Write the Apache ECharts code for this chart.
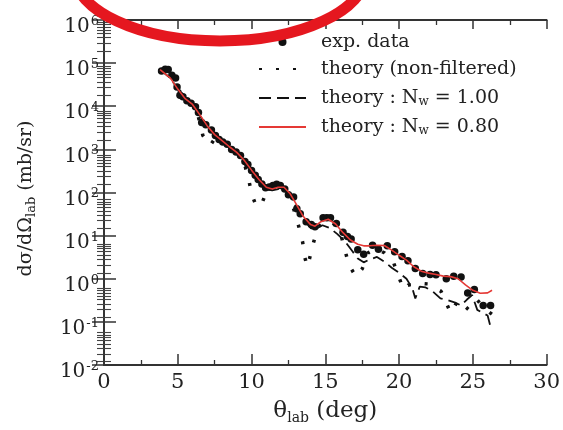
<!DOCTYPE html>
<html><head><meta charset="utf-8">
<script src="https://cdn.jsdelivr.net/npm/echarts@6/dist/echarts.min.js"></script>
<style>html,body{margin:0;padding:0;background:#fff}#c{width:563px;height:430px}</style>
</head><body><div id="c"></div>
<script>
// ---- data ----
const expTheta = [3.9,4.15,4.35,4.6,4.85,4.95,5.15,5.35,5.62,5.9,6.2,6.4,6.62,6.9,7.28,7.55,7.8,8.05,8.35,8.65,8.95,9.25,9.55,9.75,10.0,10.25,10.45,10.7,10.95,11.2,11.45,11.7,11.95,12.25,12.5,12.85,13.07,13.3,13.7,14.05,14.3,14.85,15.1,15.35,15.75,16.2,16.5,16.75,17.2,17.6,18.2,18.6,19.2,19.7,20.2,20.6,21.1,21.6,22.1,22.5,23.2,23.7,24.2,24.65,25.1,25.7,26.2];
const expSigma = [6.6e4,7.2e4,7.1e4,5.2e4,4.5e4,2.8e4,1.8e4,1.66e4,1.35e4,1.17e4,9.8e3,7.2e3,4.2e3,3.7e3,2.8e3,2.1e3,1.7e3,1.48e3,1.32e3,1.0e3,870,720,525,447,324,251,200,158,129,135,145,155,145,120,89,79,42,32,21,18,16,26,26,26,19,12,9.5,8.3,4.7,3.7,6.0,4.8,5.8,4.2,3.3,2.6,1.74,1.32,1.26,1.23,1.0,1.15,1.1,0.47,0.56,0.24,0.24];

const nfTheta = [3.8,4.2,4.6,5.0,5.5,6.0,6.4,6.7,7.2,7.6,8.0,8.5,9.0,9.5,9.85,10.0,10.3,10.62,11.0,11.4,11.8,12.2,12.6,13.07,13.3,13.47,13.56,13.78,13.91,14.2,14.5,15.0,15.5,16.0,16.3,16.6,17.07,17.5,17.9,18.4,19.0,19.6,20.3,20.6,21.3,21.95,22.85,23.5,24.0,24.73,25.3,25.8,26.6];
const nfSigma = [7.1e4,4.0e4,4.8e4,2.5e4,1.6e4,1.1e4,5.6e3,2.1e3,1.23e3,2.0e3,1.6e3,1.12e3,850,500,170,93,50,48,100,126,132,126,79,24,12,6.9,3.6,1.9,2.75,6.9,15.8,22,20,12.6,5.0,2.1,1.12,1.7,4.0,5.0,4.0,2.5,0.56,0.71,0.79,0.76,0.51,0.16,0.32,0.19,0.32,0.2,0.126];

const nw100Theta = [3.8,4.5,5.0,5.5,6.0,6.5,7.0,7.5,8.0,8.5,9.0,9.5,10.0,10.5,11.0,11.4,11.8,12.2,12.6,13.0,13.5,14.0,14.3,14.8,15.3,15.8,16.3,16.8,17.2,17.6,18.0,18.5,19.0,19.5,20.0,20.5,20.9,21.1,21.4,21.8,22.3,22.8,23.3,23.8,24.2,24.6,24.95,25.3,25.7,26.0,26.2];
const nw100Sigma = [7.1e4,4.5e4,2.5e4,1.5e4,1.07e4,6.0e3,3.4e3,2.1e3,1.55e3,1.12e3,830,540,310,182,120,112,120,117,83,48,24,15,14,17.4,15,11,7.6,4.5,2.95,2.4,2.8,3.2,2.5,1.8,1.38,1.0,0.6,0.35,0.66,0.63,0.5,0.35,0.32,0.28,0.24,0.33,0.42,0.19,0.16,0.14,0.076];

const nw080Theta = [3.8,4.5,5.0,5.5,6.0,6.5,7.0,7.5,8.0,8.5,9.0,9.5,10.0,10.5,11.0,11.4,11.8,12.2,12.6,13.0,13.5,14.0,14.3,14.7,15.2,15.7,16.2,16.7,17.2,17.6,18.0,18.5,19.0,19.5,20.0,20.5,21.0,21.5,22.0,22.5,23.0,23.5,24.0,24.5,25.0,25.5,26.0,26.3];
const nw080Sigma = [7.1e4,4.5e4,2.5e4,1.5e4,1.1e4,6.3e3,3.5e3,2.2e3,1.6e3,1.15e3,850,560,330,200,132,120,132,132,95,56,28,18,16.6,21,24,18.6,11.7,7.9,6.3,5.8,5.8,6.0,5.9,4.6,3.5,2.7,1.9,1.5,1.35,1.26,1.15,1.12,1.0,0.72,0.54,0.46,0.47,0.54];

const xTicks = [0,5,10,15,20,25,30];
const yDecades = [0.01,0.1,1,10,100,1000,1e4,1e5,1e6];

// ---- chart ----
const zip = (a,b) => a.map((v,i) => [v,b[i]]);
const FONT = "'DejaVu Serif','Liberation Serif',serif";
const INK = '#222';
const minorY = [];
for (let e = -2; e < 6; e++) for (let k = 2; k <= 9; k++) minorY.push(k * Math.pow(10, e));
const supFmt = v => {
  const e = Math.round(Math.log10(v));
  return '{b|10}{s|' + e + '}';
};
const supRich = {
  b: {fontFamily: FONT, fontSize: 20, color: INK, lineHeight: 22, verticalAlign: 'bottom'},
  s: {fontFamily: FONT, fontSize: 13, color: INK, lineHeight: 13, verticalAlign: 'top', padding: [0,0,16,1]}
};
const gridRect = {left: 104, right: 9, top: 20, bottom: 55};
const axLine = {show: true, lineStyle: {color: '#333', width: 1.8}};
const hiddenIcon = {color: 'rgba(0,0,0,0)', borderWidth: 0};

const chart = echarts.init(document.getElementById('c'), null, {renderer: 'canvas'});
chart.setOption({
  animation: false,
  backgroundColor: '#fff',
  grid: [Object.assign({}, gridRect), Object.assign({}, gridRect)],
  xAxis: [
    {gridIndex: 0, type: 'value', position: 'bottom', min: 0, max: 30, interval: 5,
     axisLine: axLine, splitLine: {show: false},
     axisTick: {inside: true, length: 11, lineStyle: {color: '#333', width: 1.5}},
     minorTick: {show: true, splitNumber: 2, length: 5, lineStyle: {color: '#333', width: 1.3}},
     axisLabel: {fontFamily: FONT, fontSize: 21, color: INK, margin: 7},
     name: 'θ{s|lab} (deg)', nameLocation: 'middle', nameGap: 32,
     nameTextStyle: {fontFamily: FONT, fontSize: 23, color: INK,
       rich: {s: {fontFamily: FONT, fontSize: 14, color: INK, verticalAlign: 'bottom', padding: [14,0,0,0]}}}},
    {gridIndex: 0, type: 'value', position: 'top', min: 0, max: 30, interval: 5,
     axisLine: axLine, splitLine: {show: false}, axisLabel: {show: false},
     axisTick: {inside: true, length: 9, lineStyle: {color: '#333', width: 1.5}},
     minorTick: {show: true, splitNumber: 2, length: 5, lineStyle: {color: '#333', width: 1.3}}},
    {gridIndex: 1, type: 'value', min: 0, max: 30, show: false},
    {gridIndex: 1, type: 'value', min: 0, max: 30, show: false, position: 'top'}
  ],
  yAxis: [
    {gridIndex: 0, type: 'log', logBase: 10, min: 0.01, max: 1e6, position: 'left',
     axisLine: axLine, splitLine: {show: false}, minorSplitLine: {show: false},
     axisTick: {inside: true, length: 12, customValues: yDecades, lineStyle: {color: '#333', width: 1.5}},
     axisLabel: {customValues: yDecades, formatter: supFmt, rich: supRich, margin: 5, padding: [12,0,0,0]},
     name: 'dσ/dΩ{s|lab} (mb/sr)', nameLocation: 'middle', nameGap: 66,
     nameTextStyle: {fontFamily: FONT, fontSize: 19, color: INK, padding: [0,12,0,0],
       rich: {s: {fontFamily: FONT, fontSize: 13, color: INK, verticalAlign: 'bottom', padding: [11,0,0,0]}}}},
    {gridIndex: 0, type: 'log', logBase: 10, min: 0.01, max: 1e6, position: 'right',
     axisLine: axLine, splitLine: {show: false}, axisLabel: {show: false},
     axisTick: {inside: true, length: 12, customValues: yDecades, lineStyle: {color: '#333', width: 1.5}}},
    {gridIndex: 1, type: 'log', logBase: 10, min: 0.01, max: 1e6, position: 'left',
     axisLine: {show: false}, splitLine: {show: false}, axisLabel: {show: false},
     axisTick: {inside: true, length: 7, customValues: minorY, lineStyle: {color: '#444', width: 1.1}}},
    {gridIndex: 1, type: 'log', logBase: 10, min: 0.01, max: 1e6, position: 'right',
     axisLine: {show: false}, splitLine: {show: false}, axisLabel: {show: false},
     axisTick: {inside: true, length: 7, customValues: minorY, lineStyle: {color: '#444', width: 1.1}}}
  ],
  legend: {
    orient: 'vertical', left: 258, top: 32, padding: 0, itemGap: 7,
    itemWidth: 47, itemHeight: 8,
    data: [
      {name: 'exp. data'},
      {name: 'theory (non-filtered)', itemStyle: hiddenIcon},
      {name: 'theory : Nw = 1.00', itemStyle: hiddenIcon},
      {name: 'theory : Nw = 0.80', itemStyle: hiddenIcon}
    ],
    formatter: n => n.replace('Nw', 'N{w|w}'),
    textStyle: {fontFamily: FONT, fontSize: 19, color: INK, lineHeight: 20, padding: [0,0,0,10],
      rich: {w: {fontFamily: FONT, fontSize: 12, color: INK, lineHeight: 12, verticalAlign: 'bottom', padding: [10,0,0,0]}}}
  },
  graphic: [{
    type: 'ellipse', z: 100,
    shape: {cx: 220, cy: -27, rx: 146, ry: 68},
    style: {fill: 'none', stroke: '#e5171f', lineWidth: 11}
  }],
  series: [
    {name: 'theory (non-filtered)', type: 'line', xAxisIndex: 0, yAxisIndex: 0, z: 2,
     symbol: 'none', data: zip(nfTheta, nfSigma), itemStyle: {color: '#111'},
     lineStyle: {color: '#111', width: 3.5, type: [3, 14], cap: 'butt'}},
    {name: 'theory : Nw = 1.00', type: 'line', xAxisIndex: 0, yAxisIndex: 0, z: 3,
     symbol: 'none', data: zip(nw100Theta, nw100Sigma), itemStyle: {color: '#111'},
     lineStyle: {color: '#111', width: 1.8, type: [12, 6]}},
    {name: 'exp. data', type: 'scatter', xAxisIndex: 0, yAxisIndex: 0, z: 4,
     symbol: 'circle', symbolSize: 7.5, data: zip(expTheta, expSigma),
     itemStyle: {color: '#111', opacity: 1}},
    {name: 'theory : Nw = 0.80', type: 'line', xAxisIndex: 0, yAxisIndex: 0, z: 5,
     symbol: 'none', data: zip(nw080Theta, nw080Sigma), itemStyle: {color: '#e53935'},
     lineStyle: {color: '#e53935', width: 1.6}}
  ]
});
</script></body></html>
